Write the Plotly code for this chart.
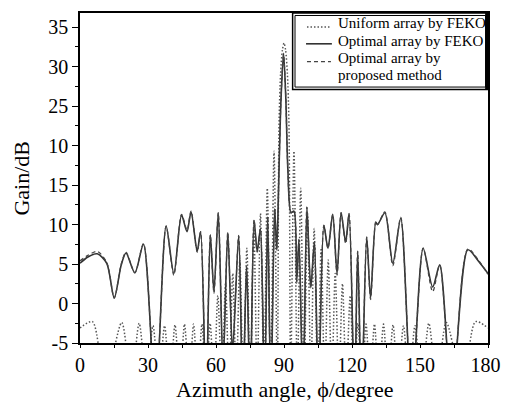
import plotly.graph_objects as go

# ---- data (azimuth angle in degrees, gain in dB) ----
uniform_angle = [0, 5.5, 11.0, 18.4, 22.57, 26.1, 29.31, 32.2, 34.83, 37.3, 39.7, 41.9, 44.09, 46.1,
                 48.17, 50.1, 52.0, 53.8, 55.65, 57.4, 59.13, 60.8, 62.56, 64.2, 65.78, 67.4, 68.94,
                 70.5, 72.06, 73.6, 75.13, 76.7, 78.16, 79.62, 81.15, 82.63, 84.12, 85.6, 87.06,
                 87.8, 88.5, 89.3, 90.0, 90.7, 91.5, 92.2,
                 92.94, 94.4, 95.88, 97.37, 98.85, 100.38, 101.84, 103.3, 104.87, 106.4, 107.94,
                 109.5, 111.06, 112.6, 114.22, 115.8, 117.44, 119.2, 120.87, 122.6, 124.35, 126.2,
                 128.0, 129.9, 131.83, 133.9, 135.91, 138.1, 140.3, 142.7, 145.17, 147.8, 150.69,
                 153.9, 157.43, 161.6, 169.0, 174.5, 180]
uniform_gain = [-3.1, -2.3, -10, -2.4, -10, -2.5, -10, -2.8, -10, -2.8, -10, -2.7, -10, -2.6,
                -10, -2.6, -10, -2.6, -10, -2.5, -10, 1.0, -10, 2.5, -10, 3.8, -10,
                5.5, -10, 7.0, -10, 9.5, -10, 11.4, -10, 14.6, -10, 19.3, -10,
                22.5, 29.1, 32.1, 33.0, 32.1, 29.1, 22.5,
                -10, 19.3, -10, 14.6, -10, 11.4, -10, 9.5, -10, 7.0, -10,
                5.5, -10, 3.8, -10, 2.5, -10, 1.0, -10, -2.5, -10, -2.6,
                -10, -2.6, -10, -2.6, -10, -2.7, -10, -2.8, -10, -2.8, -10,
                -2.5, -10, -2.4, -10, -2.3, -3.1]

optimal_angle = [0, 3.5, 7.6, 11.8, 15.1, 18.2, 20.3, 24.2, 28.0, 33.3, 38.0, 41.4, 44.8, 47.2,
                 49.0, 51.7, 53.2, 55.6, 57.5, 59.1, 61.0, 63.1, 65.2, 67.3, 70.0, 71.8, 73.5,
                 75.1, 76.8, 78.2, 79.6, 81.4, 82.8, 84.2, 85.9, 86.8, 87.8, 88.7, 89.8, 90.8,
                 91.7, 93.1, 94.4, 95.6, 96.6, 98.4, 100.1, 101.8, 103.4, 105.2, 107.6, 109.4,
                 111.5, 113.4, 115.2, 117.2, 118.7, 121.1, 122.5, 124.2, 126.5, 128.2, 130.5,
                 131.3, 134.5, 138.0, 141.5, 146.3, 151.4, 155.6, 158.7, 164.1, 171.1, 176.0, 180]
optimal_feko = [5.1, 5.9, 6.3, 5.1, 0.7, 4.9, 6.4, 3.9, 7.5, -12, 9.8, 3.8, 11.2, 9.1,
                11.6, 6.6, 9.1, -12, 8.7, 1.5, 11.5, -8, 9.0, -6, 8.6, -12, 4.7,
                -12, 10.5, 6.6, 9.5, -12, 11.0, -12, 12.0, 6.8, 17.0, 26.0, 31.7, 26.0,
                17.0, 11.5, 11.7, 2.8, 8.1, -12, 12.2, 2.0, 7.8, -12, 9.9, 7.0,
                11.3, 3.8, 11.5, 7.8, 11.4, -12, 6.6, -12, 8.4, 0.7, 10.3,
                10.0, 11.5, 5.1, 10.8, -12, 7.0, 2.1, 4.9, -12, 6.8, 5.3, 3.8]
optimal_proposed = [5.4, 6.1, 6.6, 5.2, 0.7, 5.0, 6.5, 3.9, 7.6, -12, 9.8, 3.6, 11.3, 9.3,
                    11.7, 6.5, 9.1, -12, 8.7, 1.3, 11.5, -8, 9.0, -6, 8.6, -12, 4.7,
                    -12, 10.6, 6.5, 9.5, -12, 11.0, -12, 12.0, 6.8, 17.0, 26.0, 31.5, 26.0,
                    17.0, 11.5, 11.7, 2.6, 8.1, -12, 12.2, 2.0, 7.8, -12, 9.9, 7.0,
                    11.3, 3.6, 11.5, 7.6, 11.4, -12, 6.6, -12, 8.4, 0.5, 10.4,
                    10.0, 11.6, 4.8, 10.9, -12, 7.0, 1.5, 4.9, -12, 6.9, 5.4, 3.7]

x_tickvals = [0, 30, 60, 90, 120, 150, 180]
x_ticktext = ["0", "30", "60", "90", "120", "150", "180\u00a0"]
y_tickvals = [-5, 0, 5, 10, 15, 20, 25, 30, 35]
y_ticktext = ["-5", "0", "5", "10", "15", "10", "25", "30", "35"]

legend_labels = ["Uniform array by FEKO", "Optimal array by FEKO", "Optimal array by", "proposed method"]
x_title = "Azimuth angle, \u03d5/degree"
y_title = "Gain/dB"

FONT = "Liberation Serif, Times New Roman, serif"
DOT = "1.5px,2px"
DASH = "4px,3px"

# plot area in pixels (for placing the hand-made legend in paper coordinates)
L, R, T, B = 80, 506, 11, 343
def px(xp):
    return (xp - L) / (R - L)
def py(yp):
    return (B - yp) / (B - T)

fig = go.Figure()
fig.add_trace(go.Scatter(x=uniform_angle, y=uniform_gain, mode="lines", name=legend_labels[0],
                         line=dict(color="#555555", width=1.5, dash=DOT, shape="spline", smoothing=0.8)))
fig.add_trace(go.Scatter(x=optimal_angle, y=optimal_feko, mode="lines", name=legend_labels[1],
                         line=dict(color="#333333", width=1.6, shape="spline", smoothing=0.8)))
fig.add_trace(go.Scatter(x=optimal_angle, y=optimal_proposed, mode="lines", name=legend_labels[2],
                         line=dict(color="#444444", width=1.3, dash=DASH, shape="spline", smoothing=0.8)))

shapes = [
    # legend box, double border
    dict(type="rect", xref="paper", yref="paper", x0=px(302), x1=px(506), y0=py(88), y1=py(11),
         line=dict(color="black", width=1.5), fillcolor="white", layer="above"),
    dict(type="rect", xref="paper", yref="paper", x0=px(304.5), x1=px(503.5), y0=py(85.5), y1=py(13.5),
         line=dict(color="black", width=1), layer="above"),
    dict(type="rect", xref="paper", yref="paper", x0=px(503), x1=px(506.5), y0=py(88), y1=py(10.5),
         line=dict(width=0), fillcolor="black", layer="above"),
    # legend samples
    dict(type="line", xref="paper", yref="paper", x0=px(317), x1=px(342), y0=py(25), y1=py(25),
         line=dict(color="#555555", width=1.5, dash=DOT), layer="above"),
    dict(type="line", xref="paper", yref="paper", x0=px(316), x1=px(343), y0=py(42), y1=py(42),
         line=dict(color="#333333", width=1.6), layer="above"),
    dict(type="line", xref="paper", yref="paper", x0=px(317), x1=px(342), y0=py(60), y1=py(60),
         line=dict(color="#444444", width=1.3, dash=DASH), layer="above"),
]
annotations = []
for txt, yp in zip(legend_labels, [21.5, 39, 56.5, 73]):
    annotations.append(dict(text=txt, xref="paper", yref="paper", x=px(347), y=py(yp),
                            xanchor="left", yanchor="middle", showarrow=False,
                            font=dict(family=FONT, size=15, color="black")))
# axis titles
annotations.append(dict(text=x_title, xref="paper", yref="paper", x=px(293), y=py(390),
                        xanchor="center", yanchor="middle", showarrow=False,
                        font=dict(family=FONT, size=22, color="black")))
annotations.append(dict(text=y_title, xref="paper", yref="paper", x=px(18), y=py(177),
                        xanchor="center", yanchor="middle", showarrow=False, textangle=-90,
                        font=dict(family=FONT, size=22, color="black")))

fig.update_layout(
    width=517, height=404,
    margin=dict(l=L, r=517 - R, t=T, b=404 - B),
    paper_bgcolor="white", plot_bgcolor="white",
    font=dict(family=FONT, size=20, color="black"),
    showlegend=False,
    shapes=shapes, annotations=annotations,
    xaxis=dict(range=[0, 180], tickvals=list(range(0, 181, 15)),
               ticktext=[x_ticktext[x_tickvals.index(v)] if v in x_tickvals else "" for v in range(0, 181, 15)],
               ticks="outside", ticklen=3, tickwidth=1, tickcolor="black",
               ticklabeloverflow="allow",
               showline=True, linecolor="black", linewidth=1.5, mirror=True,
               showgrid=False, zeroline=False),
    yaxis=dict(range=[-5, 36.8], tickvals=y_tickvals, ticktext=y_ticktext,
               ticks="outside", ticklen=6, tickwidth=1, tickcolor="black",
               minor=dict(tickvals=[-2.5, 2.5, 7.5, 12.5, 17.5, 22.5, 27.5, 32.5], ticks="outside",
                          ticklen=3, tickcolor="black"),
               showline=True, linecolor="black", linewidth=1.5, mirror=True,
               showgrid=False, zeroline=False),
)

fig.write_html("out.html", config={"displayModeBar": False},
               post_script="document.body.style.margin='0';")
